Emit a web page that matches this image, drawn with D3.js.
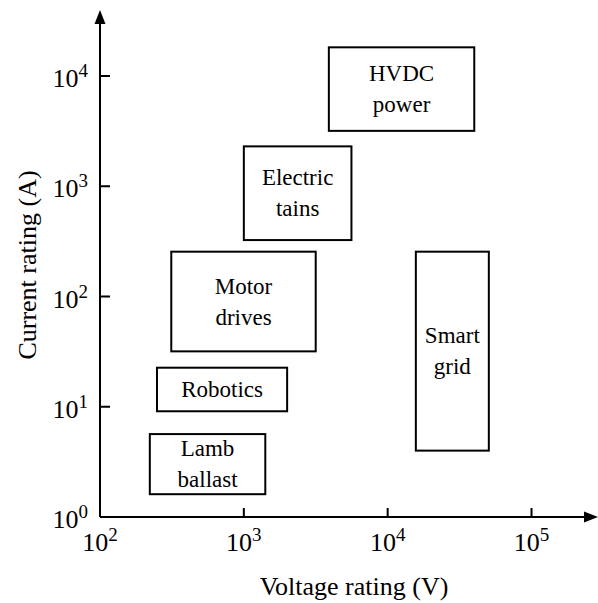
<!DOCTYPE html>
<html>
<head>
<meta charset="utf-8">
<script src="https://cdn.jsdelivr.net/npm/d3@7"></script>
<style>
  body { margin: 0; background: #fff; }
</style>
</head>
<body>
<div id="chart"></div>
<script>
// application areas of power devices, voltage vs current rating

var width = 598,
    height = 603;

// boxes: [name lines, volt min, volt max, amp min, amp max]
var names = [["HVDC", "power"], ["Electric", "tains"], ["Motor", "drives"],
             ["Smart", "grid"], ["Robotics"], ["Lamb", "ballast"]];
var voltMin = [3900, 1000, 313, 15700, 249, 222];
var voltMax = [40000, 5600, 3160, 50500, 2000, 1410];
var ampMin = [3180, 325, 31.8, 4.0, 9.1, 1.61];
var ampMax = [18200, 2300, 255, 255, 22.6, 5.65];

var xTicks = [2, 3, 4, 5];
var yTicks = [0, 1, 2, 3, 4];

var x = d3.scaleLog().domain([1e2, 1e5]).range([100, 531.5]);
var y = d3.scaleLog().domain([1, 1e4]).range([517, 76]);

var svg = d3.select("#chart").append("svg")
    .attr("width", width)
    .attr("height", height)
    .attr("font-family", "'Liberation Serif', 'Times New Roman', Times, serif");

var boxes = names.map(function(n, i) {
  return { lines: n, x0: voltMin[i], x1: voltMax[i], y0: ampMin[i], y1: ampMax[i] };
});

var g = svg.selectAll(".box")
    .data(boxes)
    .enter().append("g")
    .attr("class", "box");

g.append("rect")
    .attr("x", function(d) { return x(d.x0); })
    .attr("y", function(d) { return y(d.y1); })
    .attr("width", function(d) { return x(d.x1) - x(d.x0); })
    .attr("height", function(d) { return y(d.y0) - y(d.y1); })
    .attr("fill", "none")
    .attr("stroke", "#000")
    .attr("stroke-width", 2);

g.each(function(d) {
  var cx = (x(d.x0) + x(d.x1)) / 2,
      cy = (y(d.y0) + y(d.y1)) / 2;
  var t = d3.select(this).append("text")
      .attr("text-anchor", "middle")
      .attr("font-size", 23);
  if (d.lines.length == 1) {
    t.append("tspan").attr("x", cx).attr("y", cy + 8).text(d.lines[0]);
  } else {
    t.append("tspan").attr("x", cx).attr("y", cy - 8).text(d.lines[0]);
    t.append("tspan").attr("x", cx).attr("y", cy + 23).text(d.lines[1]);
  }
});

// axes lines with arrows
svg.append("line")
    .attr("x1", x(1e2)).attr("x2", 590)
    .attr("y1", y(1)).attr("y2", y(1))
    .attr("stroke", "#000").attr("stroke-width", 2);
svg.append("path")
    .attr("d", "M598," + y(1) + "L584," + (y(1) - 5.5) + "L584," + (y(1) + 5.5) + "Z")
    .attr("fill", "#000");

svg.append("line")
    .attr("x1", x(1e2)).attr("x2", x(1e2))
    .attr("y1", y(1)).attr("y2", 18)
    .attr("stroke", "#000").attr("stroke-width", 2);
svg.append("path")
    .attr("d", "M" + x(1e2) + ",10L" + (x(1e2) - 5.5) + ",24L" + (x(1e2) + 5.5) + ",24Z")
    .attr("fill", "#000");

// ticks, pointing inward
svg.selectAll(".xtick")
    .data(xTicks.slice(1))
    .enter().append("line")
    .attr("x1", function(d) { return x(Math.pow(10, d)); })
    .attr("x2", function(d) { return x(Math.pow(10, d)); })
    .attr("y1", y(1)).attr("y2", y(1) - 9)
    .attr("stroke", "#000").attr("stroke-width", 2);

svg.selectAll(".ytick")
    .data(yTicks.slice(1))
    .enter().append("line")
    .attr("y1", function(d) { return y(Math.pow(10, d)); })
    .attr("y2", function(d) { return y(Math.pow(10, d)); })
    .attr("x1", x(1e2)).attr("x2", x(1e2) + 10)
    .attr("stroke", "#000").attr("stroke-width", 2);

// tick labels 10^n
function powLabel(sel) {
  sel.append("tspan").attr("font-size", 26).text("10");
  sel.append("tspan").attr("dy", -10).attr("font-size", 19).text(function(d) { return d; });
}

svg.selectAll(".xlab")
    .data(xTicks)
    .enter().append("text")
    .attr("x", function(d) { return x(Math.pow(10, d)); })
    .attr("y", 551)
    .attr("text-anchor", "middle")
    .call(powLabel);

svg.selectAll(".ylab")
    .data(yTicks)
    .enter().append("text")
    .attr("x", 88)
    .attr("y", function(d) { return y(Math.pow(10, d)) + 11; })
    .attr("text-anchor", "end")
    .call(powLabel);

// axis titles
svg.append("text")
    .attr("x", 354).attr("y", 595)
    .attr("text-anchor", "middle")
    .attr("font-size", 26)
    .text("Voltage rating (V)");

svg.append("text")
    .attr("transform", "translate(36,265) rotate(-90)")
    .attr("text-anchor", "middle")
    .attr("font-size", 26)
    .text("Current rating (A)");
</script>
</body>
</html>
